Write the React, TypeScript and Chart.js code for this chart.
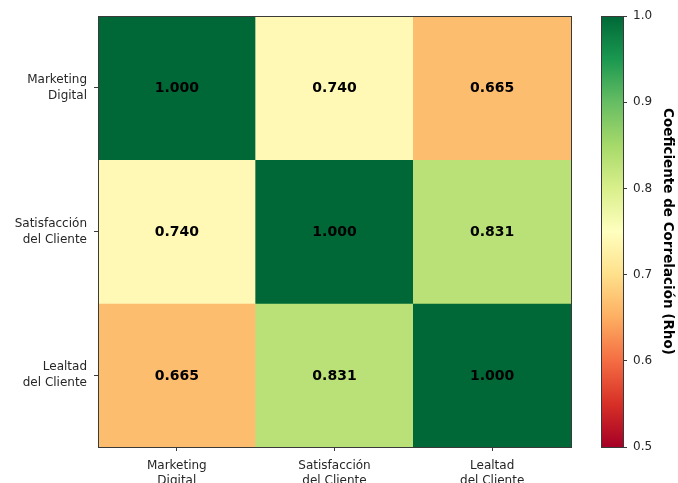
import React, { useEffect, useRef } from "react";
import { Chart, registerables } from "chart.js";

Chart.register(...registerables);

// Variables of the correlation matrix
const variables: string[][] = [
  ["Marketing", "Digital"],
  ["Satisfacción", "del Cliente"],
  ["Lealtad", "del Cliente"],
];

// Spearman rho between each pair of variables (row by row)
const rowMarketing = [1.0, 0.74, 0.665];
const rowSatisfaccion = [0.74, 1.0, 0.831];
const rowLealtad = [0.665, 0.831, 1.0];
const matrix = [rowMarketing, rowSatisfaccion, rowLealtad];

// Colour scale limits and colorbar ticks
const scaleMin = 0.5;
const scaleMax = 1.0;
const colorbarTicks = [0.5, 0.6, 0.7, 0.8, 0.9, 1.0];
const colorbarTitle = "Coeficiente de Correlación (Rho)";

// RdYlGn anchor colours (low -> high)
const rdYlGn: number[][] = [
  [165, 0, 38],
  [215, 48, 39],
  [244, 109, 67],
  [253, 174, 97],
  [254, 224, 139],
  [255, 255, 191],
  [217, 239, 139],
  [166, 217, 106],
  [102, 189, 99],
  [26, 152, 80],
  [0, 104, 55],
];

function colorFor(v: number): string {
  let t = (v - scaleMin) / (scaleMax - scaleMin);
  t = Math.max(0, Math.min(1, t));
  const pos = t * (rdYlGn.length - 1);
  const i = Math.min(Math.floor(pos), rdYlGn.length - 2);
  const f = pos - i;
  const a = rdYlGn[i];
  const b = rdYlGn[i + 1];
  const c = a.map((x, k) => Math.round(x + (b[k] - x) * f));
  return `rgb(${c[0]},${c[1]},${c[2]})`;
}

const FONT = "'DejaVu Sans', sans-serif";
const FRAME = "#3a3a3a";
const TEXT = "#262626";

// Draws a thin frame around the chart area
const framePlugin = {
  id: "frame",
  afterDraw(chart: any) {
    const { ctx, chartArea } = chart;
    ctx.save();
    ctx.strokeStyle = FRAME;
    ctx.lineWidth = 1;
    ctx.strokeRect(
      Math.round(chartArea.left) + 0.5,
      Math.round(chartArea.top) + 0.5,
      Math.round(chartArea.right - chartArea.left),
      Math.round(chartArea.bottom - chartArea.top)
    );
    ctx.restore();
  },
};

// Writes each coefficient in the centre of its cell
const cellLabelPlugin = {
  id: "cellLabels",
  afterDatasetsDraw(chart: any) {
    const { ctx, scales } = chart;
    ctx.save();
    ctx.font = `bold 14px ${FONT}`;
    ctx.fillStyle = "#000";
    ctx.textAlign = "center";
    ctx.textBaseline = "middle";
    matrix.forEach((row, r) => {
      row.forEach((v, c) => {
        const x = scales.x.getPixelForValue(c);
        const y = scales.y.getPixelForValue(r + 0.5);
        ctx.fillText(v.toFixed(3), x, y + 1);
      });
    });
    ctx.restore();
  },
};

export default function App() {
  const heatRef = useRef<HTMLCanvasElement>(null);
  const barRef = useRef<HTMLCanvasElement>(null);

  useEffect(() => {
    const heat = new Chart(heatRef.current!, {
      type: "bar",
      data: {
        labels: variables,
        datasets: matrix.map((row, r) => ({
          data: row.map(() => [r, r + 1]),
          backgroundColor: row.map((v) => colorFor(v)),
          borderWidth: 0,
          barPercentage: 1,
          categoryPercentage: 1,
          grouped: false,
        })),
      } as any,
      options: {
        responsive: false,
        animation: false,
        layout: { padding: { top: 16, right: 19, bottom: 0, left: 0 } },
        plugins: { legend: { display: false }, tooltip: { enabled: false } },
        scales: {
          x: {
            type: "category",
            offset: true,
            grid: {
              offset: false,
              drawOnChartArea: false,
              drawTicks: true,
              tickLength: 4,
              color: FRAME,
            },
            border: { display: false },
            ticks: {
              color: TEXT,
              font: { family: FONT, size: 12, lineHeight: 1.2 },
              padding: 8,
              maxRotation: 0,
              autoSkip: false,
            },
            afterFit(scale: any) {
              scale.height = 36;
              scale.paddingLeft = 0;
              scale.paddingRight = 0;
            },
          },
          y: {
            type: "linear",
            min: 0,
            max: 3,
            reverse: true,
            afterBuildTicks(scale: any) {
              scale.ticks = variables.map((_, i) => ({ value: i + 0.5 }));
            },
            grid: {
              drawOnChartArea: false,
              drawTicks: true,
              tickLength: 4,
              color: FRAME,
            },
            border: { display: false },
            ticks: {
              color: TEXT,
              font: { family: FONT, size: 12, lineHeight: 1.35 },
              padding: 7,
              callback: (v: any) => variables[Math.floor(Number(v))] as any,
            },
            afterFit(scale: any) {
              scale.width = 98;
              scale.paddingTop = 0;
              scale.paddingBottom = 0;
            },
          },
        },
      } as any,
      plugins: [cellLabelPlugin, framePlugin],
    });

    const bar = new Chart(barRef.current!, {
      type: "bar",
      data: {
        labels: [""],
        datasets: [
          {
            data: [[scaleMin, scaleMax]],
            backgroundColor: (ctx: any) => {
              const chart = ctx.chart;
              const y = chart.scales.y;
              if (!chart.chartArea || !y) return "#888";
              const g = chart.ctx.createLinearGradient(
                0,
                y.getPixelForValue(scaleMin),
                0,
                y.getPixelForValue(scaleMax)
              );
              rdYlGn.forEach((c, i) =>
                g.addColorStop(i / (rdYlGn.length - 1), `rgb(${c[0]},${c[1]},${c[2]})`)
              );
              return g;
            },
            borderWidth: 0,
            barPercentage: 1,
            categoryPercentage: 1,
          },
        ],
      } as any,
      options: {
        responsive: false,
        animation: false,
        layout: { padding: { top: 16, right: 0, bottom: 36, left: 11 } },
        plugins: { legend: { display: false }, tooltip: { enabled: false } },
        scales: {
          x: { display: false, offset: true },
          y: {
            position: "right",
            min: scaleMin,
            max: scaleMax,
            afterBuildTicks(scale: any) {
              scale.ticks = colorbarTicks.map((v) => ({ value: v }));
            },
            grid: {
              drawOnChartArea: false,
              drawTicks: true,
              tickLength: 4,
              color: FRAME,
            },
            border: { display: false },
            ticks: {
              color: TEXT,
              font: { family: FONT, size: 12 },
              padding: 6,
              callback: (v: any) => Number(v).toFixed(1),
            },
            title: {
              display: true,
              text: colorbarTitle,
              color: "#000",
              font: { family: FONT, size: 13.5, weight: "bold" },
              padding: { top: 2, bottom: 0 },
            },
            afterFit(scale: any) {
              scale.width = 55;
              scale.paddingTop = 0;
              scale.paddingBottom = 0;
            },
          },
        },
      } as any,
      plugins: [framePlugin],
    });

    return () => {
      heat.destroy();
      bar.destroy();
    };
  }, []);

  return (
    <div
      style={{
        position: "absolute",
        left: 0,
        top: 0,
        width: 678,
        height: 483,
        background: "#fff",
      }}
    >
      <canvas
        ref={heatRef}
        width={590}
        height={483}
        style={{ position: "absolute", left: 0, top: 0, display: "block" }}
      />
      <canvas
        ref={barRef}
        width={88}
        height={483}
        style={{ position: "absolute", left: 590, top: 0, display: "block" }}
      />
    </div>
  );
}
